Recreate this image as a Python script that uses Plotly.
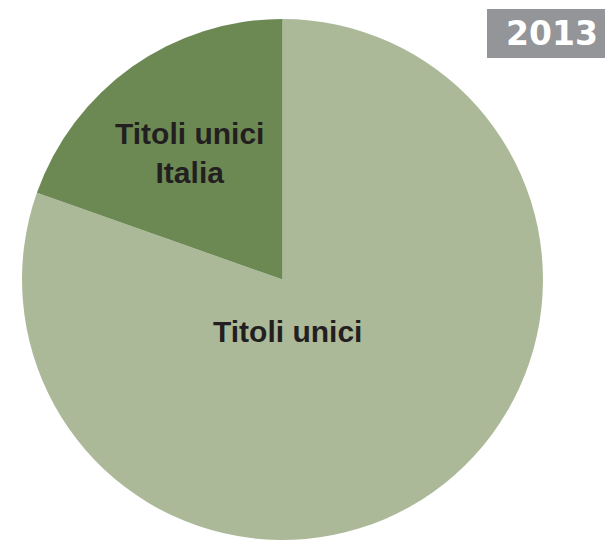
import plotly.graph_objects as go

labels = ["Titoli unici", "Titoli unici Italia"]
label_text = ["Titoli unici", "Titoli unici<br>Italia"]
values = [80.4, 19.6]
colors = ["#ACB998", "#6C8954"]
year = "2013"

fig = go.Figure(go.Pie(
    labels=labels,
    values=values,
    sort=False,
    direction="clockwise",
    rotation=0,
    marker=dict(colors=colors, line=dict(width=0)),
    textinfo="none",
    hoverinfo="label+percent",
    showlegend=False,
    domain=dict(x=[0.0364, 0.8975], y=[0.0, 0.9648]),
))

label_font = dict(family="Liberation Sans", size=30, color="#231F20")
fig.add_annotation(x=287 / 605, y=1 - 331 / 540, xref="paper", yref="paper",
                   text="<b>" + label_text[0] + "</b>", showarrow=False,
                   xanchor="center", yanchor="middle", font=label_font)
fig.add_annotation(x=189.5 / 605, y=1 - 153 / 540, xref="paper", yref="paper",
                   text="<b>" + label_text[1] + "</b>", showarrow=False,
                   xanchor="center", yanchor="middle", font=label_font)

fig.add_shape(type="rect", xref="paper", yref="paper",
              x0=487 / 605, x1=1.0, y0=1 - 58 / 540, y1=1 - 9 / 540,
              fillcolor="#939598", line=dict(width=0), layer="above")
fig.add_annotation(x=552 / 605, y=1 - 33.5 / 540, xref="paper", yref="paper",
                   text="<b>" + year + "</b>", showarrow=False,
                   xanchor="center", yanchor="middle",
                   font=dict(family="DejaVu Sans", size=33, color="#FFFFFF"))

fig.update_layout(
    width=605, height=540,
    margin=dict(l=0, r=0, t=0, b=0),
    paper_bgcolor="#FFFFFF",
    plot_bgcolor="#FFFFFF",
)

fig.write_html("out.html", config={"displayModeBar": False},
               post_script="document.body.style.margin='0';")
